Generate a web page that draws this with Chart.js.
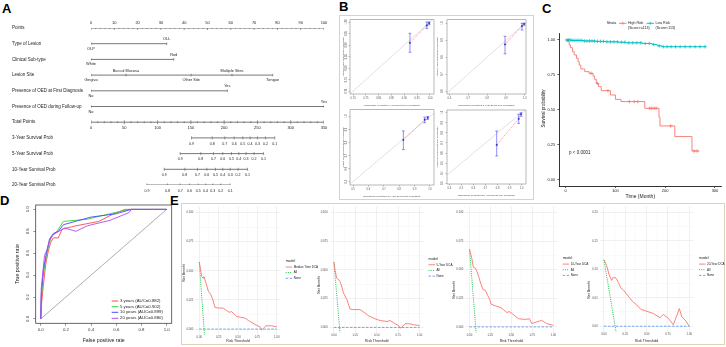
<!DOCTYPE html>
<html>
<head>
<meta charset="utf-8">
<script src="https://cdn.jsdelivr.net/npm/chart.js@4.4.1/dist/chart.umd.min.js"></script>
<style>
  body { margin: 0; background: #fff; }
  #wrap { position: relative; width: 726px; height: 347px; overflow: hidden; background: #fff; }
  #wrap canvas { position: absolute; }
  .tag { position: absolute; font: bold 13px "Liberation Sans", Arial, sans-serif; line-height: 13px; color: #000; }
  .frame { position: absolute; border: 1.5px solid #ddd4b8; box-sizing: border-box; }
</style>
</head>
<body>
<div id="wrap">
  <div class="frame" style="left:339px;top:15px;width:195px;height:185px"></div>
  <div class="frame" style="left:181px;top:203px;width:544px;height:142px"></div>
  <div class="tag" style="left:2px;top:1.6px">A</div>
  <div class="tag" style="left:339px;top:0px">B</div>
  <div class="tag" style="left:542px;top:2.3px">C</div>
  <div class="tag" style="left:0px;top:194.3px">D</div>
  <div class="tag" style="left:170px;top:194px">E</div>
</div>
<script>
// ---- A: nomogram ----
const nomoRows = ['Points', 'Type of Lesion', 'Clinical Sub-type', 'Lesion Site',
  'Presence of OED at First Diagnosis', 'Presence of OED during Follow-up', 'Total Points',
  '3-Year Survival Prob', '5-Year Survival Prob', '10-Year Survival Prob', '20-Year Survival Prob'];
const pointTicks = [0, 10, 20, 30, 40, 50, 60, 70, 80, 90, 100];
const lesionLevels = ['OLP', 'OLL'];
const lesionPoints = [0, 32.5];
const subtypeLevels = ['White', 'Red'];
const subtypePoints = [0, 35.5];
const siteLevels = ['Gingiva', 'Buccal Mucosa', 'Other Site', 'Multiple Sites', 'Tongue'];
const sitePoints = [0, 15, 43, 60.5, 78];
const oedFirstLevels = ['No', 'Yes'];
const oedFirstPoints = [0, 58.5];
const oedFollowLevels = ['No', 'Yes'];
const oedFollowPoints = [0, 100];
const totalTicks = [0, 50, 100, 150, 200, 250, 300, 350];
const survProbs = ['0.9', '0.8', '0.7', '0.6', '0.5', '0.4', '0.3', '0.2', '0.1'];
const surv3Total = [151, 182, 201, 215, 228, 239, 250, 262, 276];
const surv5Total = [134, 165, 184, 198, 211, 222, 233, 245, 259];
const surv10Total = [110, 141, 160, 174, 187, 198, 209, 221, 235];
const surv20Total = [84, 115, 134, 148, 161, 172, 183, 195, 209];

// ---- B: calibration ----
const cal3Ticks = ['0.70', '0.75', '0.80', '0.85', '0.90', '0.95', '1.00'];
const cal3Pred = [0.922, 0.988, 0.997];
const cal3Obs = [0.910, 0.985, 0.995];
const cal3Lo = [0.869, 0.972, 0.988];
const cal3Hi = [0.951, 1.000, 1.000];
const cal5Ticks = ['0.6', '0.7', '0.8', '0.9', '1.0'];
const cal5Pred = [0.895, 0.985, 0.996];
const cal5Obs = [0.875, 0.983, 0.996];
const cal5Lo = [0.820, 0.960, 0.988];
const cal5Hi = [0.923, 1.000, 1.000];
const cal10Ticks = ['0.5', '0.6', '0.7', '0.8', '0.9', '1.0'];
const cal10Pred = [0.827, 0.965, 0.985];
const cal10Obs = [0.820, 0.975, 0.990];
const cal10Lo = [0.746, 0.952, 0.978];
const cal10Hi = [0.889, 0.995, 1.000];
const cal20XTicks = ['0.4', '0.5', '0.6', '0.7', '0.8', '0.9', '1.0'];
const cal20YTicks = ['0.3', '0.4', '0.5', '0.6', '0.7', '0.8', '0.9', '1.0'];
const cal20Pred = [0.793, 0.975, 0.995];
const cal20Obs = [0.680, 0.940, 0.985];
const cal20Lo = [0.571, 0.895, 0.965];
const cal20Hi = [0.819, 0.985, 1.000];

// ---- C: Kaplan-Meier ----
const kmHighTime = [0, 3.3, 7.3, 9.9, 13.9, 17.2, 21.9, 25.2, 27.2, 30.5, 38.4, 47, 55, 58.3, 61.6, 66.3, 71.6, 90.1, 100, 111.3, 159, 187.5, 189.5, 219.3, 253.8, 268.4];
const kmHighSurv = [1, .988, .964, .945, .917, .893, .869, .845, .821, .793, .774, .762, .743, .719, .69, .667, .638, .607, .576, .56, .512, .448, .386, .31, .207, .207];
const kmHighCensor = [51, 64, 85, 128, 138, 145, 169, 173, 178, 182, 211, 258, 264];
const kmLowTime = [0, 12, 35, 60, 81, 105, 121, 154, 174, 184, 194, 282];
const kmLowSurv = [1, .997, .993, .99, .987, .984, .98, .975, .968, .958, .952, .952];
const kmLowCensor = [3, 6, 9, 13, 17, 21, 25, 29, 33, 38, 43, 48, 53, 58, 64, 70, 76, 83, 90, 97, 104, 112, 119, 127, 135, 143, 151, 160, 168, 177, 188, 196, 204, 212, 221, 230, 240, 250, 260, 270, 280];
const kmTimeTicks = [0, 100, 200, 300];
const kmSurvTicks = ['0.00', '0.25', '0.50', '0.75', '1.00'];

// ---- D: ROC ----
const rocNames = ['3 years (AUC=0.882)', '5 years (AUC=0.902)', '10 years (AUC=0.899)', '20 years (AUC=0.880)'];
const roc3Fpr = [0, 0.005, 0.02, 0.04, 0.06, 0.08, 0.10, 0.14, 0.17, 0.28, 0.46, 0.58, 0.67, 1];
const roc3Tpr = [0, 0.12, 0.30, 0.50, 0.62, 0.70, 0.74, 0.74, 0.82, 0.85, 0.89, 0.96, 1.0, 1];
const roc5Fpr = [0, 0.005, 0.02, 0.045, 0.07, 0.09, 0.13, 0.18, 0.37, 0.55, 0.70, 1];
const roc5Tpr = [0, 0.20, 0.40, 0.58, 0.70, 0.76, 0.80, 0.89, 0.91, 0.96, 1.0, 1];
const roc10Fpr = [0, 0.004, 0.02, 0.045, 0.07, 0.10, 0.14, 0.18, 0.40, 0.60, 0.72, 1];
const roc10Tpr = [0, 0.22, 0.44, 0.60, 0.73, 0.78, 0.80, 0.86, 0.93, 0.96, 1.0, 1];
const roc20Fpr = [0, 0.004, 0.03, 0.05, 0.07, 0.10, 0.19, 0.25, 0.28, 0.37, 0.55, 0.70, 0.72, 1];
const roc20Tpr = [0, 0.28, 0.58, 0.63, 0.72, 0.77, 0.83, 0.81, 0.80, 0.85, 0.90, 0.97, 1.0, 1];
const rocTicks = ['0.0', '0.2', '0.4', '0.6', '0.8', '1.0'];

// ---- E: decision curves ----
const dcaModels = ['Median Time DCA', '5-Year DCA', '10-Year DCA', '20-Year DCA'];
const dca1Thr = [0, 0.018, 0.03, 0.052, 0.06, 0.087, 0.117, 0.147, 0.173, 0.203, 0.245, 0.31, 0.354, 0.388, 0.418, 0.483, 0.59, 0.633, 0.72, 0.784, 0.806, 0.862, 0.935, 1.0];
const dca1Nb = [0.0575, 0.0506, 0.045, 0.0436, 0.045, 0.0394, 0.0325, 0.0298, 0.0256, 0.0186, 0.018, 0.018, 0.0158, 0.0144, 0.015, 0.0108, 0.0094, 0.0075, 0.0039, 0.0019, -0.0008, 0.0028, 0.0028, 0.0019];
const dca1AllThr = [0, 0.068];
const dca1AllNb = [0.0575, -0.006];
const dca2Thr = [0, 0.012, 0.031, 0.05, 0.07, 0.09, 0.11, 0.149, 0.188, 0.226, 0.305, 0.363, 0.40, 0.48, 0.54, 0.62, 0.656, 0.715, 0.754, 0.78, 0.832, 0.89, 0.93, 1.0];
const dca2Nb = [0.0567, 0.050, 0.043, 0.042, 0.040, 0.036, 0.030, 0.0246, 0.016, 0.0155, 0.0155, 0.0126, 0.0103, 0.0075, 0.006, 0.0052, 0.006, 0.0032, 0.0017, -0.0006, 0.0032, 0.0032, 0.0023, 0.0017];
const dca2AllThr = [0, 0.07];
const dca2AllNb = [0.0567, -0.0045];
const dca3Thr = [0, 0.03, 0.046, 0.074, 0.083, 0.11, 0.139, 0.162, 0.19, 0.217, 0.241, 0.257, 0.308, 0.368, 0.407, 0.439, 0.478, 0.526, 0.585, 0.664, 0.715, 0.744, 0.795, 0.862, 0.92, 1.0];
const dca3Nb = [0.068, 0.059, 0.052, 0.051, 0.0495, 0.0438, 0.0368, 0.0325, 0.032, 0.0275, 0.024, 0.0198, 0.0184, 0.017, 0.015, 0.0127, 0.0133, 0.0105, 0.0071, 0.0065, 0.0071, 0.0029, 0.0042, 0.0057, 0.0029, 0.0014];
const dca3AllThr = [0, 0.08];
const dca3AllNb = [0.068, -0.006];
const dca4Thr = [0, 0.03, 0.062, 0.09, 0.109, 0.141, 0.168, 0.196, 0.227, 0.258, 0.297, 0.337, 0.383, 0.43, 0.50, 0.578, 0.656, 0.695, 0.754, 0.813, 0.883, 0.911, 0.95, 1.0];
const dca4Nb = [0.1166, 0.107, 0.090, 0.0805, 0.086, 0.0844, 0.077, 0.0675, 0.0636, 0.058, 0.0505, 0.043, 0.0376, 0.0297, 0.0263, 0.0224, 0.0149, 0.0207, 0.0139, 0.0025, 0.031, 0.0166, 0.011, 0.0];
const dca4AllThr = [0, 0.142];
const dca4AllNb = [0.1166, -0.01];
const dcaXTicks = ['0.00', '', '0.25', '', '0.50', '', '0.75', '', '1.00'];
const dcaXVals = [0, 0.125, 0.25, 0.375, 0.5, 0.625, 0.75, 0.875, 1];
const dcaYTicks = ['0.000', '', '0.025', '', '0.050', '', '0.075', '', '0.100'];
const dcaYVals = [0, 0.0125, 0.025, 0.0375, 0.05, 0.0625, 0.075, 0.0875, 0.1];
const dca4YTicks = ['0.00', '', '0.05', '', '0.10', '', '0.15', '', '0.20'];
const dca4YVals = [0, 0.025, 0.05, 0.075, 0.1, 0.125, 0.15, 0.175, 0.2];

const FONT = '"Liberation Sans", Arial, sans-serif';
Chart.defaults.font.family = FONT;
Chart.defaults.color = '#333';
Chart.defaults.plugins.legend.display = false;
Chart.defaults.plugins.tooltip.enabled = false;

const wrap = document.getElementById('wrap');
const ROT = -Math.PI / 2;
const xy = (xs, ys) => xs.map((v, i) => ({ x: v, y: ys[i] }));

function text(c, s, x, y, size, o) {
  o = o || {};
  c.save();
  c.font = size + 'px ' + FONT;
  c.fillStyle = o.color || '#222';
  c.textAlign = o.align || 'left';
  c.textBaseline = 'middle';
  c.translate(x, y);
  if (o.rot) c.rotate(o.rot);
  c.fillText(s, 0, 0);
  c.restore();
}
function seg(c, x0, y0, x1, y1, color, w, dash) {
  c.save();
  c.strokeStyle = color;
  c.lineWidth = w;
  c.setLineDash(dash || []);
  c.beginPath();
  c.moveTo(x0, y0);
  c.lineTo(x1, y1);
  c.stroke();
  c.restore();
}

// canvas at box (page coords), chart area pinned to area (page coords)
function place(box, area, cfg, hidden, draw) {
  const cv = document.createElement('canvas');
  cv.width = box[2];
  cv.height = box[3];
  cv.style.left = box[0] + 'px';
  cv.style.top = box[1] + 'px';
  cv.style.width = box[2] + 'px';
  cv.style.height = box[3] + 'px';
  wrap.appendChild(cv);
  const L = area[0] - box[0], T = area[1] - box[1];
  const R = box[0] + box[2] - area[2], B = box[1] + box[3] - area[3];
  const o = cfg.options;
  Object.assign(o, { responsive: false, animation: false, devicePixelRatio: 1, events: [] });
  if (hidden) {
    o.layout = { padding: { left: L, top: T, right: R, bottom: B } };
  } else {
    o.layout = { padding: { left: 0, top: T, right: R, bottom: 0 } };
    o.scales.x.afterFit = s => { s.height = B; };
    o.scales.y.afterFit = s => { s.width = L; };
  }
  cfg.plugins = [{
    id: 'pageDraw',
    afterDraw(chart) { draw(chart, chart.ctx, box[0], box[1]); }
  }];
  return new Chart(cv, cfg);
}
const setTicks = vals => s => { s.ticks = vals.map(v => ({ value: +v })); };

// ================= A =================
const varRows = [
  [lesionLevels, lesionPoints], [subtypeLevels, subtypePoints], [siteLevels, sitePoints],
  [oedFirstLevels, oedFirstPoints], [oedFollowLevels, oedFollowPoints]
];
const survRows = [surv3Total, surv5Total, surv10Total, surv20Total];
const pointMinor = [];
for (let v = 0; v <= 100; v += 2) pointMinor.push(v);
const totalMinor = [];
for (let v = 0; v <= 350; v += 10) totalMinor.push(v);

const nomoLine = { showLine: true, borderColor: '#555', borderWidth: 0.8, pointStyle: 'line', pointRotation: 90,
  pointBorderColor: '#555', pointBorderWidth: 0.6 };
const nomoSets = [];
nomoSets.push({ ...nomoLine, data: pointMinor.map(v => ({ x: v, y: 0 })), pointRadius: c => (c.raw.x % 10 === 0 ? 2 : 1) });
varRows.forEach((r, k) => nomoSets.push({ ...nomoLine, data: r[1].map(v => ({ x: v, y: k + 1 })), pointRadius: 1.3 }));
nomoSets.push({ ...nomoLine, xAxisID: 'xt', data: totalMinor.map(v => ({ x: v, y: 6 })), pointRadius: c => (c.raw.x % 50 === 0 ? 2 : 1) });
survRows.forEach((r, k) => nomoSets.push({ ...nomoLine, xAxisID: 'xt', data: r.map(v => ({ x: v, y: 7 + k })), pointRadius: 1.5 }));

place([0, 0, 340, 200], [91, 28, 324, 185], {
  type: 'scatter',
  data: { datasets: nomoSets },
  options: {
    scales: {
      x: { type: 'linear', min: 0, max: 100, display: false },
      xt: { type: 'linear', axis: 'x', position: 'bottom', min: 0, max: 350, display: false },
      y: { type: 'linear', min: 0, max: 10, reverse: true, display: false }
    }
  }
}, true, (chart, c) => {
  const X = chart.scales.x, XT = chart.scales.xt, Y = chart.scales.y;
  nomoRows.forEach((n, i) => text(c, n, 12, Y.getPixelForValue(i), 4.5));
  pointTicks.forEach(v => text(c, String(v), X.getPixelForValue(v), Y.getPixelForValue(0) - 5.5, 4, { align: 'center' }));
  varRows.forEach((r, k) => r[0].forEach((lab, j) =>
    text(c, lab, X.getPixelForValue(r[1][j]), Y.getPixelForValue(k + 1) + (j % 2 ? -4.5 : 5), 3.9, { align: 'center' })));
  totalTicks.forEach(v => text(c, String(v), XT.getPixelForValue(v), Y.getPixelForValue(6) + 5.5, 4, { align: 'center' }));
  survRows.forEach((r, k) => r.forEach((v, j) =>
    text(c, survProbs[j], XT.getPixelForValue(v), Y.getPixelForValue(7 + k) + 5.7, 3.6, { align: 'center' })));
});

// ================= B =================
function calibration(box, area, xr, yr, xTicks, yTicks, pred, obs, lo, hi, years, offs) {
  const bars = [];
  pred.forEach((p, i) => { bars.push({ x: p, y: lo[i] }, { x: p, y: hi[i] }, { x: p, y: null }); });
  const axis = (r, t) => ({
    type: 'linear', min: r[0], max: r[1], afterBuildTicks: setTicks(t),
    ticks: { callback: (v, i) => t[i], font: { size: 2.6 }, color: '#555', padding: 1, maxRotation: 0, autoSkip: false },
    grid: { drawOnChartArea: false, tickLength: 1.5, color: '#777', lineWidth: 0.5 },
    border: { display: false }
  });
  const ys = axis(yr, yTicks);
  ys.ticks.display = false;
  place(box, area, {
    type: 'scatter',
    data: { datasets: [
      { data: xy(pred, obs), pointStyle: 'rect', pointRadius: 0.9, pointBackgroundColor: '#2a2aa0', pointBorderColor: '#2a2aa0', pointBorderWidth: 0.4 },
      { data: bars, showLine: true, spanGaps: false, borderColor: '#5b5bff', borderWidth: 0.7, pointStyle: 'line',
        pointRadius: c => (c.raw && c.raw.y !== null ? 1.4 : 0), pointBorderColor: '#5b5bff', pointBorderWidth: 0.7 },
      { data: xy(pred, obs), showLine: true, borderColor: '#ff7070', borderWidth: 0.8, borderDash: [1, 1], pointRadius: 0 },
      { data: [{ x: 0, y: 0 }, { x: 1.1, y: 1.1 }], showLine: true, borderColor: '#cdcdcd', borderWidth: 0.6, pointRadius: 0 }
    ] },
    options: { scales: { x: axis(xr, xTicks), y: ys } }
  }, false, (chart, c) => {
    const a = chart.chartArea, Y = chart.scales.y;
    c.save();
    c.strokeStyle = '#8a8a8a';
    c.lineWidth = 0.6;
    c.strokeRect(a.left, a.top, a.right - a.left, a.bottom - a.top);
    c.restore();
    yTicks.forEach(s => text(c, s, a.left - offs[0], Y.getPixelForValue(+s), 2.6, { align: 'center', rot: ROT, color: '#555' }));
    text(c, 'Nomogram-Predicted ' + years + '-Year Event-free Probability', (a.left + a.right) / 2, a.bottom + 11, 2.5, { align: 'center', color: '#444' });
    text(c, 'Actual ' + years + '-Year Event-free Probability', a.left - offs[1], (a.top + a.bottom) / 2, 2.5, { align: 'center', rot: ROT, color: '#444' });
  });
}
calibration([340, 15, 100, 100], [350, 17, 434, 94], [0.688, 1.016], [0.688, 1.010], cal3Ticks, cal3Ticks, cal3Pred, cal3Obs, cal3Lo, cal3Hi, 3, [3.3, 6.7]);
calibration([436, 15, 96, 100], [447, 17, 526, 94], [0.588, 1.006], [0.583, 1.021], cal5Ticks, cal5Ticks, cal5Pred, cal5Obs, cal5Lo, cal5Hi, 5, [5, 9.5]);
calibration([340, 105, 100, 100], [350, 107, 434, 185], [0.4805, 1.026], [0.474, 1.052], cal10Ticks, cal10Ticks, cal10Pred, cal10Obs, cal10Lo, cal10Hi, 10, [3.3, 6.7]);
calibration([436, 105, 96, 100], [447, 110, 526, 184], [0.381, 1.036], [0.293, 1.027], cal20XTicks, cal20YTicks, cal20Pred, cal20Obs, cal20Lo, cal20Hi, 20, [5, 9.5]);

// ================= C =================
const stepAt = (times, surv, t) => { let s = surv[0]; times.forEach((tt, i) => { if (tt <= t) s = surv[i]; }); return s; };
const RED = '#F8766D', TEAL = '#00BFC4';
const kmAxis = {
  ticks: { font: { size: 4 }, color: '#222', maxRotation: 0, autoSkip: false },
  grid: { drawOnChartArea: false, tickLength: 2, color: '#000', lineWidth: 0.6 },
  border: { display: true, color: '#000', width: 0.8 }
};
place([530, 14, 196, 190], [559.3, 33, 723, 186], {
  type: 'scatter',
  data: { datasets: [
    { data: kmHighCensor.map(t => ({ x: t, y: stepAt(kmHighTime, kmHighSurv, t) })), pointStyle: 'cross', pointRadius: 1.8, pointBorderColor: RED, pointBorderWidth: 0.7 },
    { data: kmLowCensor.map(t => ({ x: t, y: stepAt(kmLowTime, kmLowSurv, t) })), pointStyle: 'cross', pointRadius: 1.8, pointBorderColor: TEAL, pointBorderWidth: 0.7 },
    { data: xy(kmHighTime, kmHighSurv), showLine: true, stepped: 'before', borderColor: RED, borderWidth: 0.9, pointRadius: 0 },
    { data: xy(kmLowTime, kmLowSurv), showLine: true, stepped: 'before', borderColor: TEAL, borderWidth: 0.9, pointRadius: 0 }
  ] },
  options: { scales: {
    x: { type: 'linear', min: -12.7, max: 312.7, afterBuildTicks: setTicks(kmTimeTicks), ...kmAxis,
      ticks: { ...kmAxis.ticks, padding: 0.5 } },
    y: { type: 'linear', min: -0.043, max: 1.05, afterBuildTicks: setTicks(kmSurvTicks), ...kmAxis,
      ticks: { ...kmAxis.ticks, padding: 2, callback: (v, i) => kmSurvTicks[i] } }
  } }
}, false, (chart, c, ox, oy) => {
  const a = chart.chartArea, X = chart.scales.x, Y = chart.scales.y;
  text(c, 'Survival probability', 544 - ox, (a.top + a.bottom) / 2 - 1, 4.5, { align: 'center', rot: ROT });
  text(c, 'Time (Month)', (a.left + a.right) / 2, 196.7 - oy, 5, { align: 'center' });
  text(c, 'p < 0.0001', X.getPixelForValue(7), Y.getPixelForValue(0.195), 4.5);
  text(c, 'Strata', 606.7 - ox, 23.4 - oy, 3.6);
  [[RED, 619, 'High Risk', '(Score>=113)'], [TEAL, 646.5, 'Low Risk', '(Score<113)']].forEach(e => {
    const y = 23.3 - oy, x = e[1] - ox;
    seg(c, x, y, x + 7.5, y, e[0], 0.9);
    seg(c, x + 3.75, y - 1.6, x + 3.75, y + 1.6, e[0], 0.6);
    seg(c, x + 2.15, y, x + 5.35, y, e[0], 0.6);
    text(c, e[2], x + 9, y, 3.6);
    text(c, e[3], x + 9, y + 4.4, 3.6);
  });
});

// ================= D =================
const rocColors = ['#ff4848', '#36d336', '#4a4aff', '#b04cf2'];
const rocSets = [[roc3Fpr, roc3Tpr], [roc5Fpr, roc5Tpr], [roc10Fpr, roc10Tpr], [roc20Fpr, roc20Tpr]];
const rocAxis = {
  type: 'linear', min: -0.04, max: 1.04, afterBuildTicks: setTicks(rocTicks),
  ticks: { callback: (v, i) => rocTicks[i], font: { size: 4.3 }, color: '#333', padding: 1.5, maxRotation: 0, autoSkip: false },
  grid: { drawOnChartArea: false, tickLength: 2.5, color: '#555', lineWidth: 0.6 },
  border: { display: false }
};
place([0, 196, 180, 151], [35.7, 205, 171.7, 323.3], {
  type: 'scatter',
  data: { datasets: rocSets.slice().reverse().map((r, k) => ({
    data: xy(r[0], r[1]), showLine: true, borderColor: rocColors[3 - k], borderWidth: 0.9, pointRadius: 0
  })).concat([{ data: [{ x: 0, y: 0 }, { x: 1, y: 1 }], showLine: true, borderColor: '#777', borderWidth: 0.6, pointRadius: 0 }]) },
  options: { scales: { x: { ...rocAxis }, y: { ...rocAxis, ticks: { ...rocAxis.ticks, display: false } } } }
}, false, (chart, c, ox, oy) => {
  const a = chart.chartArea, Y = chart.scales.y;
  c.save();
  c.strokeStyle = '#444';
  c.lineWidth = 0.8;
  c.strokeRect(a.left, a.top, a.right - a.left, a.bottom - a.top);
  c.restore();
  rocTicks.forEach(s => text(c, s, 28.3 - ox, Y.getPixelForValue(+s), 4.3, { align: 'center', rot: ROT, color: '#333' }));
  text(c, 'True positive rate', 17.5 - ox, (a.top + a.bottom) / 2, 5.2, { align: 'center', rot: ROT });
  text(c, 'False positive rate', (a.left + a.right) / 2, 341 - oy, 5.2, { align: 'center' });
  [301, 306.7, 312.3, 318.3].forEach((y, i) => {
    seg(c, 111.7 - ox, y - oy, 118.3 - ox, y - oy, rocColors[i], 1);
    text(c, rocNames[i], 120 - ox, y - oy, 4.3);
  });
});

// ================= E =================
const DRED = '#F8766D', DGREEN = '#00BA38', DBLUE = '#619CFF';
function dca(box, area, yr, yVals, yLabels, thr, nb, allThr, allNb, model, leg, titleY) {
  const minor = c => c.index % 2 === 1;
  const grid = { color: c => (minor(c) ? '#f3f3f3' : '#e5e5e5'), lineWidth: c => (minor(c) ? 0.4 : 0.6), drawTicks: false };
  place(box, area, {
    type: 'scatter',
    data: { datasets: [
      { data: xy(thr, nb), showLine: true, borderColor: DRED, borderWidth: 0.9, pointRadius: 0 },
      { data: xy(allThr, allNb), showLine: true, borderColor: DGREEN, borderWidth: 0.9, borderDash: [1, 1.2], pointRadius: 0 },
      { data: [{ x: 0, y: 0 }, { x: 1, y: 0 }], showLine: true, borderColor: DBLUE, borderWidth: 0.9, borderDash: [2.5, 1.5], pointRadius: 0 }
    ] },
    options: { scales: {
      x: { type: 'linear', min: -0.05, max: 1.05, afterBuildTicks: setTicks(dcaXVals), grid, border: { display: false },
        ticks: { callback: (v, i) => dcaXTicks[i], font: { size: 2.8 }, color: '#4d4d4d', padding: 0.6, maxRotation: 0, autoSkip: false } },
      y: { type: 'linear', min: yr[0], max: yr[1], afterBuildTicks: setTicks(yVals), grid, border: { display: false },
        ticks: { callback: (v, i) => yLabels[i], font: { size: 2.8 }, color: '#4d4d4d', padding: 2, autoSkip: false } }
    } }
  }, false, (chart, c, ox, oy) => {
    const a = chart.chartArea;
    text(c, 'Net Benefit', a.left - 11, titleY - oy, 3.5, { align: 'center', rot: ROT });
    text(c, 'Risk Threshold', (a.left + a.right) / 2, 340.6 - oy, 3.5, { align: 'center' });
    const lx = leg[0] - ox, ly = leg[1] - oy;
    text(c, 'model', lx, ly, 3.5);
    [[model, DRED, []], ['All', DGREEN, [1, 1.2]], ['None', DBLUE, [2.5, 1.5]]].forEach((e, i) => {
      const y = ly + [6.2, 11.8, 17.5][i];
      seg(c, lx, y, lx + 6.5, y, e[1], 0.9, e[2]);
      text(c, e[0], lx + 8, y, 3);
    });
  });
}
dca([182, 203, 149, 143], [195.4, 205.1, 280.6, 334.9], [-0.005, 0.105], dcaYVals, dcaYTicks, dca1Thr, dca1Nb, dca1AllThr, dca1AllNb, dcaModels[0], [285.7, 260.8], 273);
dca([314, 203, 150, 143], [329.7, 204.1, 423.8, 333.2], [-0.005, 0.105], dcaYVals, dcaYTicks, dca2Thr, dca2Nb, dca2AllThr, dca2AllNb, dcaModels[1], [428.5, 258.6], 285);
dca([449, 203, 149, 143], [465.3, 203.1, 557.5, 332.6], [-0.005, 0.105], dcaYVals, dcaYTicks, dca3Thr, dca3Nb, dca3AllThr, dca3AllNb, dcaModels[2], [562.7, 257.9], 290);
dca([584, 203, 142, 143], [599.7, 203.2, 693.6, 331.9], [-0.01, 0.21], dca4YVals, dca4YTicks, dca4Thr, dca4Nb, dca4AllThr, dca4AllNb, dcaModels[3], [699, 257.9], 290);
</script>
</body>
</html>
